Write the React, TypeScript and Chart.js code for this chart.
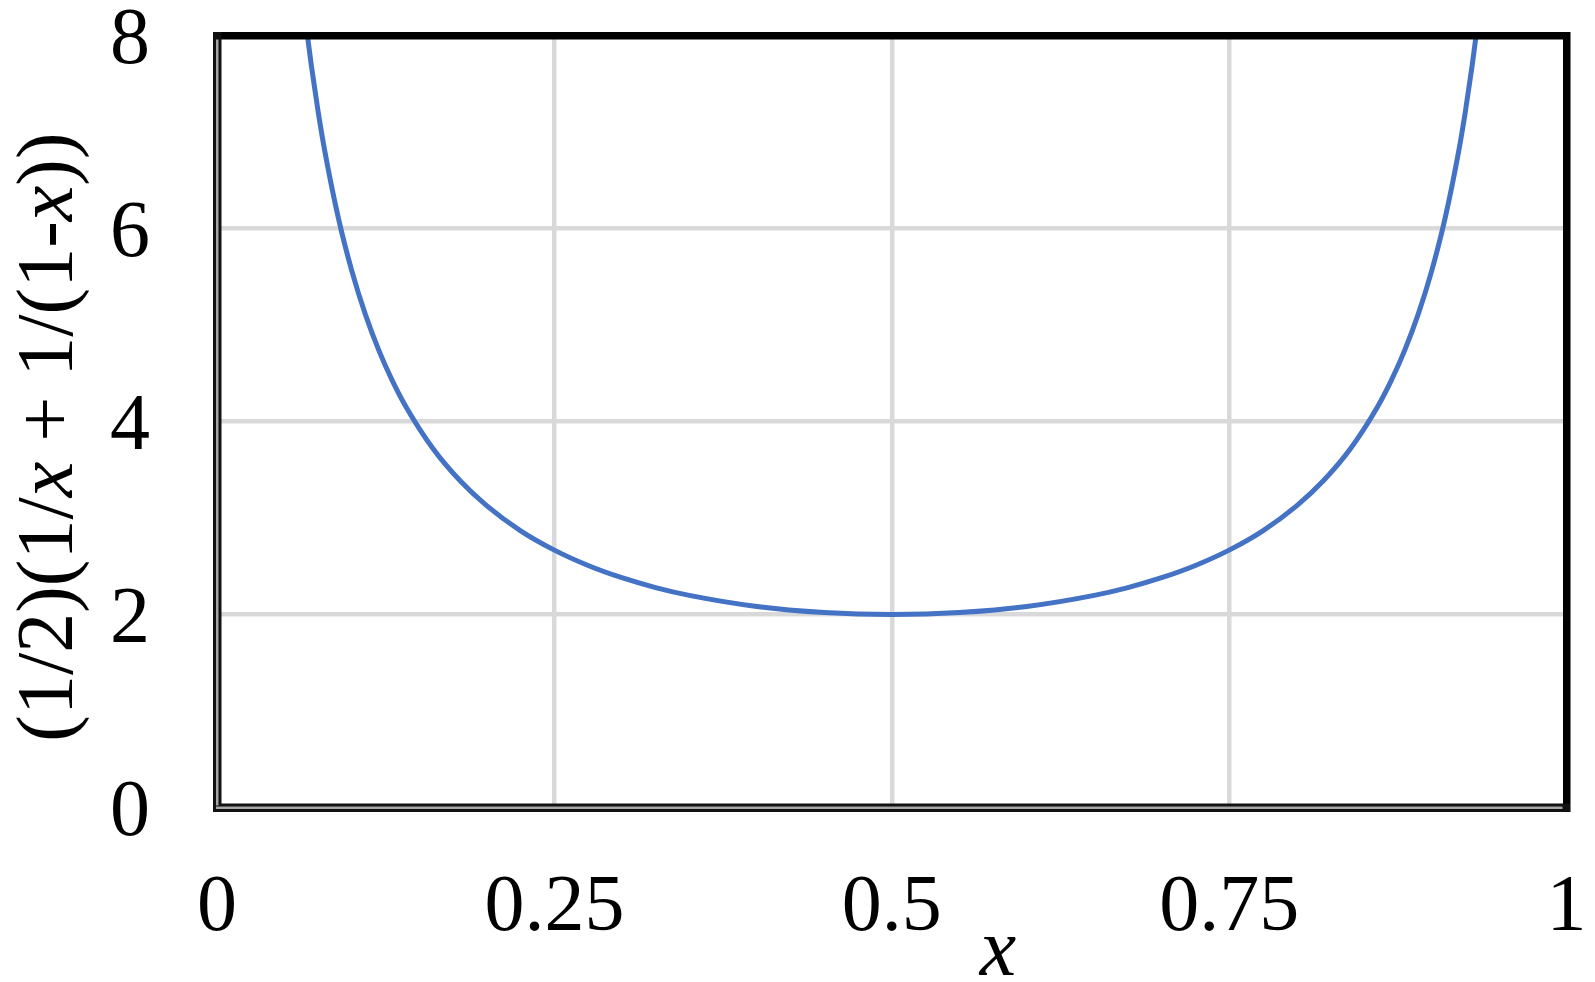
import React, { useEffect, useRef } from "react";
import { Chart, registerables } from "chart.js";

Chart.register(...registerables);

const xValues = [
  0.067, 0.07, 0.075, 0.08, 0.09, 0.1, 0.11, 0.12, 0.13, 0.14, 0.16, 0.18, 0.2,
  0.225, 0.25, 0.275, 0.3, 0.325, 0.35, 0.4, 0.45, 0.5, 0.55, 0.6, 0.65, 0.675,
  0.7, 0.725, 0.75, 0.775, 0.8, 0.82, 0.84, 0.86, 0.87, 0.88, 0.89, 0.9, 0.91,
  0.92, 0.925, 0.93, 0.933,
];
const yValues = [
  8.0, 7.68, 7.207, 6.793, 6.105, 5.556, 5.107, 4.735, 4.421, 4.153, 3.72,
  3.388, 3.125, 2.867, 2.667, 2.508, 2.381, 2.279, 2.198, 2.083, 2.02, 2.0,
  2.02, 2.083, 2.198, 2.279, 2.381, 2.508, 2.667, 2.867, 3.125, 3.388, 3.72,
  4.153, 4.421, 4.735, 5.107, 5.556, 6.105, 6.793, 7.207, 7.68, 8.0,
];
const xTickLabels = ["0", "0.25", "0.5", "0.75", "1"];
const yTickLabels = ["0", "2", "4", "6", "8"];
const yTitleParts = [
  { text: "(1/2)(1/", italic: false },
  { text: "x", italic: true },
  { text: " + 1/(1-", italic: false },
  { text: "x", italic: true },
  { text: "))", italic: false },
];
const xTitle = "x";

const FONT = "'Liberation Serif', 'Times New Roman', serif";

export default function App() {
  const ref = useRef<HTMLCanvasElement | null>(null);
  useEffect(() => {
    if (!ref.current) return;
    const framePlugin = {
      id: "frameAndTitles",
      afterDraw(chart: any) {
        const { ctx, chartArea } = chart;
        const { left, right, top, bottom } = chartArea;
        ctx.save();
        // top & right borders: thick black
        ctx.fillStyle = "#000";
        ctx.fillRect(left - 4, top - 3.5, right - left + 7.5, 7.5);
        ctx.fillRect(right - 3.5, top - 3.5, 7.5, bottom - top + 8);
        // left & bottom: double line
        ctx.fillStyle = "#111";
        ctx.fillRect(left - 4, top - 3.5, 8.5, bottom - top + 8);
        ctx.fillRect(left - 4, bottom - 4, right - left + 7.5, 8.5);
        ctx.fillStyle = "#a6a6a6";
        ctx.fillRect(left - 1, top + 4, 2.5, bottom - top - 6);
        ctx.fillRect(left - 1, bottom - 1, right - left - 3, 2.5);
        // y tick labels
        const yScale = chart.scales.y;
        ctx.fillStyle = "#000";
        ctx.font = `80px ${FONT}`;
        ctx.textAlign = "right";
        ctx.textBaseline = "middle";
        yTickLabels.forEach((label, i) => {
          ctx.fillText(label, 150, yScale.getPixelForValue(i * 2) + 6);
        });
        // y title
        ctx.textBaseline = "alphabetic";
        ctx.textAlign = "left";
        const size = 80;
        const widths = yTitleParts.map((p) => {
          ctx.font = `${p.italic ? "italic " : ""}${size}px ${FONT}`;
          return ctx.measureText(p.text).width;
        });
        const total = widths.reduce((a, b) => a + b, 0);
        ctx.translate(72, 437);
        ctx.rotate(-Math.PI / 2);
        let cx = -total / 2;
        yTitleParts.forEach((p, i) => {
          ctx.font = `${p.italic ? "italic " : ""}${size}px ${FONT}`;
          ctx.fillText(p.text, cx, 0);
          cx += widths[i];
        });
        ctx.setTransform(1, 0, 0, 1, 0, 0);
        // x title
        ctx.font = `italic 82px ${FONT}`;
        ctx.textAlign = "center";
        ctx.textBaseline = "alphabetic";
        ctx.fillText(xTitle, 998, 975);
        ctx.restore();
      },
    };
    const chart = new Chart(ref.current, {
      type: "line",
      data: {
        datasets: [
          {
            data: xValues.map((x, i) => ({ x, y: yValues[i] })),
            borderColor: "#4472C4",
            borderWidth: 5,
            pointRadius: 0,
            cubicInterpolationMode: "monotone",
            fill: false,
          },
        ],
      },
      options: {
        responsive: false,
        animation: false,
        layout: { padding: { top: 35.5, right: 28.5, left: 0, bottom: 0 } },
        plugins: { legend: { display: false }, tooltip: { enabled: false } },
        scales: {
          x: {
            type: "linear",
            min: 0,
            max: 1,
            afterFit(scale: any) {
              scale.height = 174.5;
              scale.paddingLeft = 0;
              scale.paddingRight = 0;
              scale.paddingTop = 0;
              scale.paddingBottom = 0;
            },
            afterBuildTicks(scale: any) {
              scale.ticks = xTickLabels.map((_, i) => ({ value: i * 0.25 }));
            },
            ticks: {
              padding: 53,
              color: "#000",
              font: { family: FONT, size: 80 },
              maxRotation: 0,
              autoSkip: false,
              callback: (_v: any, i: number) => xTickLabels[i],
            },
            grid: { color: "#d9d9d9", lineWidth: 4.5, drawTicks: false },
            border: { display: false },
          },
          y: {
            type: "linear",
            min: 0,
            max: 8,
            afterFit(scale: any) {
              scale.width = 217;
              scale.paddingLeft = 0;
              scale.paddingRight = 0;
              scale.paddingTop = 0;
              scale.paddingBottom = 0;
            },
            afterBuildTicks(scale: any) {
              scale.ticks = yTickLabels.map((_, i) => ({ value: i * 2 }));
            },
            ticks: {
              display: false,
              autoSkip: false,
            },
            grid: { color: "#d9d9d9", lineWidth: 4.5, drawTicks: false },
            border: { display: false },
          },
        },
      },
      plugins: [framePlugin],
    });
    return () => chart.destroy();
  }, []);
  return (
    <div style={{ position: "absolute", left: 0, top: 0, width: 1595, height: 982, background: "#fff" }}>
      <canvas ref={ref} width={1595} height={982} style={{ display: "block" }} />
    </div>
  );
}
